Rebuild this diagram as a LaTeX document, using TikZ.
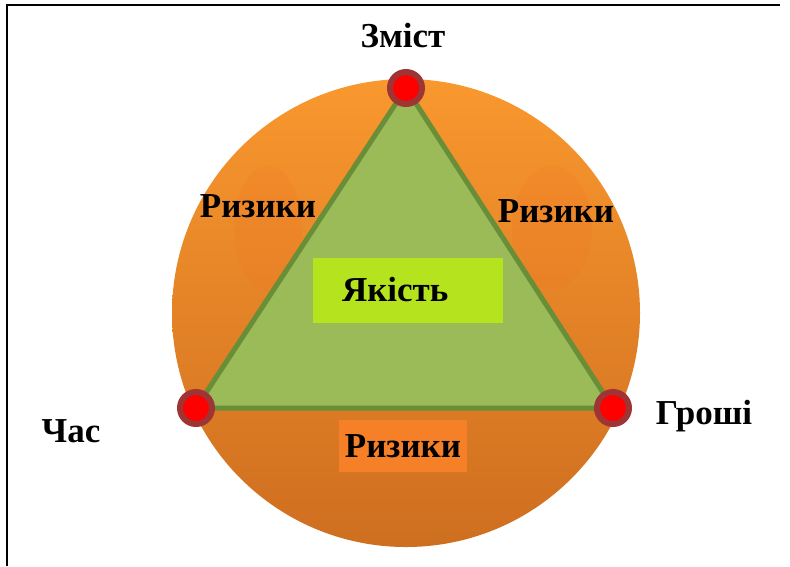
\documentclass[tikz,border=0pt]{standalone}
\usepackage{fontspec}
\setmainfont{Liberation Serif}
\definecolor{ringtop}{RGB}{249,152,46}
\definecolor{ringmid}{RGB}{241,137,40}
\definecolor{ringbot}{RGB}{206,110,32}
\definecolor{blob}{RGB}{244,118,38}
\definecolor{trifill}{RGB}{155,187,89}
\definecolor{triedge}{RGB}{104,142,56}
\definecolor{qfill}{RGB}{181,228,30}
\definecolor{rfill}{RGB}{246,128,40}
\definecolor{dotring}{RGB}{158,52,52}
\begin{document}
\begin{tikzpicture}[x=1pt,y=-1pt,
    lbl/.style={font=\fontsize{35}{38}\selectfont\bfseries},
    vertex/.style={circle,fill=red,draw=dotring,line width=6pt,minimum size=32pt,inner sep=0pt}]
	\useasboundingbox (0,0) rectangle (790,566);
	% frame
	\draw[line width=2pt] (7,566) -- (7,5) -- (780,5);
	% outer circle
	\shade[top color=ringtop,middle color=ringmid,bottom color=ringbot] (406,313) circle (234);
	\fill[blob,opacity=0.22] (268,228) ellipse (34 and 62);
	\fill[blob,opacity=0.22] (552,228) ellipse (40 and 62);
	% corners
	\coordinate (t) at (406,88);
	\coordinate (l) at (196,408);
	\coordinate (r) at (613,408);
	\filldraw[fill=trifill,draw=triedge,line width=5pt,line join=round] (t) -- (l) -- (r) -- cycle;
	\node[vertex] (content) at (t) {};
	\node[vertex] (time) at (l) {};
	\node[vertex] (money) at (r) {};
	% labels
	\node[lbl] (zmist) at (403,36) {Зміст};
	\node[lbl] (chas) at (71,431) {Час};
	\node[lbl] (groshi) at (704,416) {Гроші};
	\node[lbl] (riskl) at (258,206) {Ризики};
	\node[lbl] (riskr) at (556,211) {Ризики};
	\node[lbl,fill=qfill,minimum height=65pt,inner xsep=29pt,text width=132pt,align=left] (quality) at (408,290) {Якість};
	\node[lbl,fill=rfill,minimum width=128pt,minimum height=52pt,inner sep=0pt] (riskb) at (403,446) {Ризики};
\end{tikzpicture}
\end{document}
